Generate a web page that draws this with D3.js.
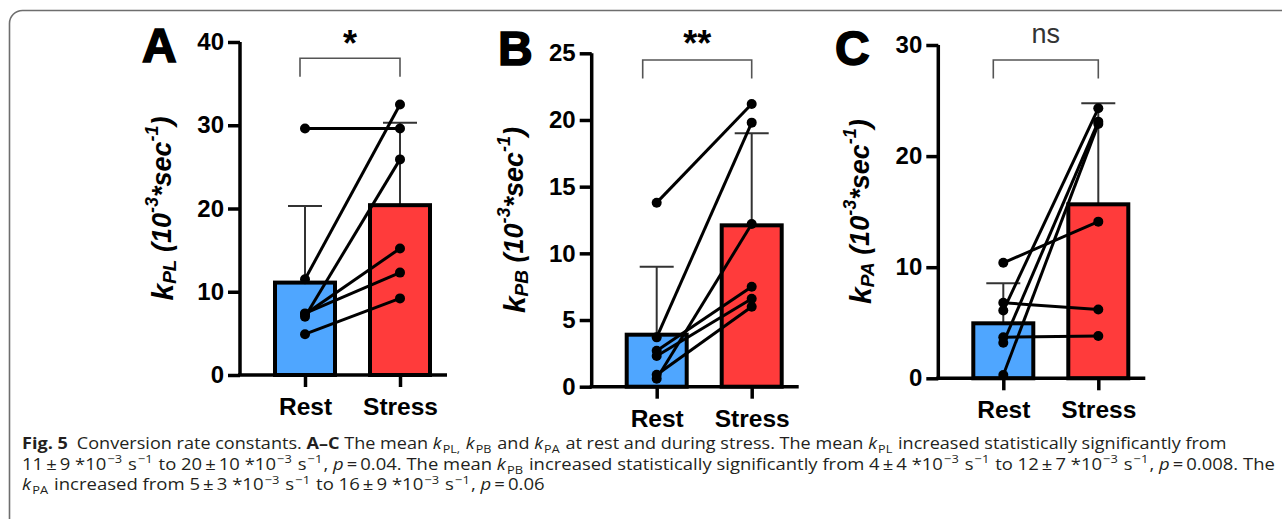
<!DOCTYPE html>
<html>
<head>
<meta charset="utf-8">
<script src="https://cdn.jsdelivr.net/npm/d3@7"></script>
<style>
  html, body { margin: 0; padding: 0; background: #fff; }
  svg { display: block; }
</style>
</head>
<body>
<svg id="chart" width="1282" height="519"></svg>
<script>
// ---------------- DATA ----------------
const categories = ["Rest", "Stress"];
const panelLetters = ["A", "B", "C"];
const yLabelSubs = ["PL", "PB", "PA"];
const sigLabels = ["*", "**", "ns"];

const yMaxA = 40, yMaxB = 25, yMaxC = 30;
const yTicksA = [0, 10, 20, 30, 40];
const yTicksB = [0, 5, 10, 15, 20, 25];
const yTicksC = [0, 10, 20, 30];

// bar means and SD (Rest, Stress)
const meansA = [11.1, 20.4];
const sdA = [9.2, 9.9];
const meansB = [3.9, 12.1];
const sdB = [5.1, 6.9];
const meansC = [4.95, 15.66];
const sdC = [3.6, 9.1];

// individual subjects, paired by index
const restA = [29.6, 11.5, 7.4, 7.3, 7.0, 4.9];
const stressA = [29.6, 32.5, 12.3, 15.2, 25.9, 9.2];
const restB = [13.8, 3.7, 2.7, 2.3, 0.9, 0.6];
const stressB = [21.2, 19.8, 7.5, 6.6, 6.0, 12.2];
const restC = [10.4, 6.8, 6.1, 3.7, 3.2, 0.3];
const stressC = [14.1, 6.2, 24.3, 3.8, 23.1, 22.9];

// ---------------- LAYOUT ----------------
const panels = [
  { letter: panelLetters[0], sub: yLabelSubs[0], sig: sigLabels[0], yMax: yMaxA, ticks: yTicksA,
    means: meansA, sd: sdA, rest: restA, stress: stressA,
    ox: 240, yTop: 42, yBot: 375, letterX: 142, letterY: 62, bracketY: 58.3, bracketL: -5 },
  { letter: panelLetters[1], sub: yLabelSubs[1], sig: sigLabels[1], yMax: yMaxB, ticks: yTicksB,
    means: meansB, sd: sdB, rest: restB, stress: stressB,
    ox: 591.7, yTop: 53.3, yBot: 386.7, letterX: 498, letterY: 65, bracketY: 60, bracketL: -14 },
  { letter: panelLetters[2], sub: yLabelSubs[2], sig: sigLabels[2], yMax: yMaxC, ticks: yTicksC,
    means: meansC, sd: sdC, rest: restC, stress: stressC,
    ox: 938.3, yTop: 45, yBot: 378.3, letterX: 835, letterY: 65, bracketY: 60, bracketL: -10 }
];

const blue = "#4fa6ff";
const red = "#ff3b3b";
const svg = d3.select("#chart");

// frame
svg.append("rect")
  .attr("x", 9.5).attr("y", 10.5).attr("width", 1400).attr("height", 700)
  .attr("rx", 13).attr("ry", 13)
  .attr("fill", "none").attr("stroke", "#6e6e6e").attr("stroke-width", 1.6);

const FONT = "'Liberation Sans', Arial, sans-serif";

panels.forEach(p => {
  const g = svg.append("g").attr("transform", `translate(${p.ox},0)`);
  const x = d3.scalePoint().domain(categories).range([65, 160]);
  const y = d3.scaleLinear().domain([0, p.yMax]).range([p.yBot, p.yTop]);
  const barW = 60;

  // error bars (upper only)
  categories.forEach((c, i) => {
    const cx = x(c);
    g.append("line").attr("x1", cx).attr("x2", cx)
      .attr("y1", y(p.means[i])).attr("y2", y(p.means[i] + p.sd[i]))
      .attr("stroke", "#333").attr("stroke-width", 2);
    g.append("line").attr("x1", cx - 17).attr("x2", cx + 17)
      .attr("y1", y(p.means[i] + p.sd[i])).attr("y2", y(p.means[i] + p.sd[i]))
      .attr("stroke", "#333").attr("stroke-width", 2);
  });

  // bars
  g.selectAll("rect.bar").data(categories).join("rect")
    .attr("class", "bar")
    .attr("x", c => x(c) - barW / 2)
    .attr("width", barW)
    .attr("y", (c, i) => y(p.means[i]))
    .attr("height", (c, i) => y(0) - y(p.means[i]))
    .attr("fill", (c, i) => i === 0 ? blue : red)
    .attr("stroke", "#000").attr("stroke-width", 4);

  // y axis
  const yAxis = d3.axisLeft(y).tickValues(p.ticks).tickSize(12).tickPadding(4).tickFormat(d3.format("d"));
  const ya = g.append("g").call(yAxis);
  ya.select(".domain").attr("stroke", "#000").attr("stroke-width", 3.5)
    .attr("d", `M0,${p.yTop}V${p.yBot}`);
  ya.selectAll(".tick line").attr("stroke", "#000").attr("stroke-width", 3.5);
  ya.selectAll(".tick text").attr("font-family", FONT).attr("font-weight", "bold")
    .attr("font-size", 24).attr("fill", "#000");

  // x axis
  const xAxis = d3.axisBottom(x).tickSize(12).tickPadding(10);
  const xa = g.append("g").attr("transform", `translate(0,${p.yBot})`).call(xAxis);
  xa.select(".domain").attr("stroke", "#000").attr("stroke-width", 3.5).attr("d", "M-2,0H207");
  xa.selectAll(".tick line").attr("stroke", "#000").attr("stroke-width", 3.5);
  xa.selectAll(".tick text").attr("font-family", FONT).attr("font-weight", "bold")
    .attr("font-size", 24.5).attr("fill", "#000").attr("dy", null).attr("y", 40);

  // paired lines
  const pairs = p.rest.map((r, i) => [r, p.stress[i]]);
  g.selectAll("line.pair").data(pairs).join("line")
    .attr("class", "pair")
    .attr("x1", x("Rest")).attr("x2", x("Stress"))
    .attr("y1", d => y(d[0])).attr("y2", d => y(d[1]))
    .attr("stroke", "#000").attr("stroke-width", 3);
  g.selectAll("circle.rest").data(p.rest).join("circle")
    .attr("class", "rest").attr("cx", x("Rest")).attr("cy", d => y(d)).attr("r", 5).attr("fill", "#000");
  g.selectAll("circle.stress").data(p.stress).join("circle")
    .attr("class", "stress").attr("cx", x("Stress")).attr("cy", d => y(d)).attr("r", 5).attr("fill", "#000");

  // significance bracket
  const bl = x("Rest") + p.bracketL, br = x("Stress");
  g.append("path")
    .attr("d", `M${bl},${p.bracketY + 18.5}V${p.bracketY}H${br}V${p.bracketY + 18.5}`)
    .attr("fill", "none").attr("stroke", "#555").attr("stroke-width", 1.6);
  const sigText = g.append("text")
    .attr("x", (bl + br) / 2).attr("text-anchor", "middle")
    .attr("font-family", FONT).text(p.sig);
  if (p.sig === "ns") {
    sigText.attr("y", 43).attr("font-size", 27).attr("fill", "#333");
  } else {
    sigText.attr("y", 56).attr("font-size", 36).attr("font-weight", "bold").attr("fill", "#000");
  }

  // y label
  const yl = g.append("text")
    .attr("transform", `translate(-78,${(p.yTop + p.yBot) / 2}) rotate(-90)`)
    .attr("text-anchor", "middle").attr("dominant-baseline", "central")
    .attr("font-family", FONT).attr("font-weight", "bold").attr("font-style", "italic")
    .attr("font-size", 27).attr("fill", "#000");
  yl.append("tspan").attr("font-size", 30).text("k");
  yl.append("tspan").attr("font-size", 19).attr("dy", 7).text(p.sub);
  yl.append("tspan").attr("dy", -7).text(" (10");
  yl.append("tspan").attr("font-size", 18).attr("dy", -10).text("-3");
  yl.append("tspan").attr("dy", 10).text("*sec");
  yl.append("tspan").attr("font-size", 18).attr("dy", -10).text("-1");
  yl.append("tspan").attr("dy", 10).text(")");

  // panel letter
  svg.append("text").attr("x", p.letterX).attr("y", p.letterY)
    .attr("font-family", FONT).attr("font-weight", "bold").attr("font-size", 48)
    .attr("stroke", "#000").attr("stroke-width", 1.6).attr("fill", "#000")
    .text(p.letter);
});

// ---------------- CAPTION ----------------
const S = s => ({ t: s });
const B = s => ({ t: s, b: true });
const I = s => ({ t: s, i: true });
const SUB = s => ({ t: s, sub: true });
const SUP = s => ({ t: s, sup: true });
const pm = "\u2009\u00b1\u2009";

const captionLines = [
  [B("Fig. 5"), S("\u2002Conversion rate constants. "), B("A\u2013C"), S(" The mean "), I("k"), SUB("PL,"), S(" "), I("k"), SUB("PB"),
   S(" and "), I("k"), SUB("PA"), S(" at rest and during stress. The mean "), I("k"), SUB("PL"), S(" increased statistically significantly from")],
  [S("11" + pm + "9 *10"), SUP("\u22123"), S(" s"), SUP("\u22121"), S(" to 20" + pm + "10 *10"), SUP("\u22123"), S(" s"), SUP("\u22121"),
   S(", "), I("p"), S("\u2009=\u20090.04. The mean "), I("k"), SUB("PB"), S(" increased statistically significantly from 4" + pm + "4 *10"),
   SUP("\u22123"), S(" s"), SUP("\u22121"), S(" to 12" + pm + "7 *10"), SUP("\u22123"), S(" s"), SUP("\u22121"), S(", "), I("p"), S("\u2009=\u20090.008. The")],
  [I("k"), SUB("PA"), S(" increased from 5" + pm + "3 *10"), SUP("\u22123"), S(" s"), SUP("\u22121"), S(" to 16" + pm + "9 *10"), SUP("\u22123"),
   S(" s"), SUP("\u22121"), S(", "), I("p"), S("\u2009=\u20090.06")]
];
const captionBaselines = [449, 469.5, 490];
const captionWidths = [1205, 1253, 523];

captionLines.forEach((segs, li) => {
  const t = svg.append("text")
    .attr("x", 0).attr("y", 0)
    .attr("font-family", "'Open Sans', 'Noto Sans', sans-serif")
    .attr("font-size", 16.5).attr("fill", "#231f20");
  let cur = 0, prevShift = false;
  segs.forEach(s => {
    const target = s.sub ? 4 : s.sup ? -6.5 : 0;
    const ts = t.append("tspan").text(s.t);
    if (target !== cur) ts.attr("dy", target - cur);
    const shifted = !!(s.sub || s.sup);
    if (shifted || prevShift) ts.attr("dx", 1);
    cur = target;
    prevShift = shifted;
    if (s.b) ts.attr("font-weight", "bold");
    if (s.i) ts.attr("font-style", "italic");
    if (shifted) ts.attr("font-size", 11.5);
  });
  const w = t.node().getComputedTextLength();
  const bb = t.node().getBBox();
  const natural = Math.max(w, bb.width);
  const sx = natural > 0 ? captionWidths[li] / natural : 1;
  t.attr("transform", `translate(22,${captionBaselines[li]}) scale(${sx},1)`);
});
</script>
</body>
</html>
